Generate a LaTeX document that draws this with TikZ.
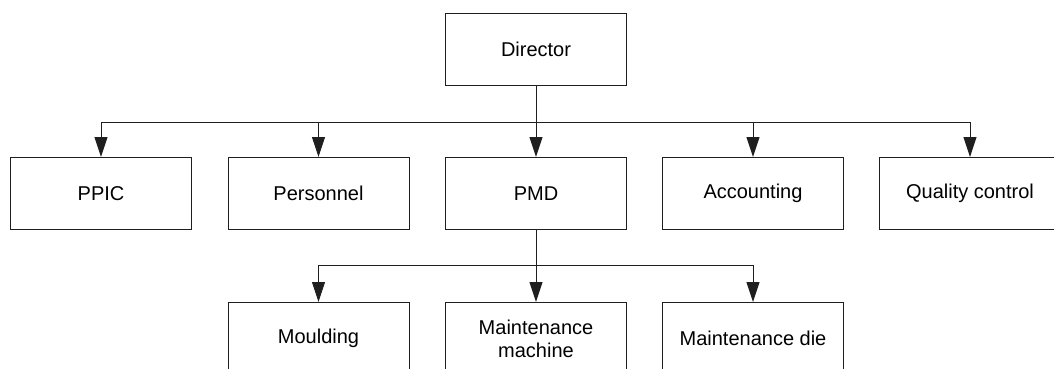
\documentclass[tikz,border=0pt]{standalone}
\usepackage{fontspec}
\setmainfont{Liberation Sans}
\usetikzlibrary{arrows.meta}
\begin{document}
\begin{tikzpicture}[x=1pt,y=-1pt,
  unit/.style={draw=black!88, line width=1pt, minimum width=181pt,
    minimum height=72pt, inner sep=0pt, align=center, anchor=north west,
    font=\fontsize{20}{23}\selectfont},
  wire/.style={draw=black!88, line width=1pt},
  link/.style={wire, -{Triangle[length=20pt,width=13pt]}}]
\useasboundingbox (0,0) rectangle (1054,369);
\clip (0,0) rectangle (1054,369);

% top level
\node[unit] (dir) at (445,13) {Director};

% departments
\node[unit] (ppic) at (10,157)    {PPIC};
\node[unit] (pers) at (227.5,157) {Personnel};
\node[unit] (pmd)  at (445,157)   {PMD};
\node[unit] (acc)  at (662,157)   {Accounting};
\node[unit] (qc)   at (879,157)   {Quality control};

% sections under PMD
\node[unit] (mould) at (227.5,302) {Moulding};
\node[unit] (mmach) at (445,302)   {Maintenance\\machine};
\node[unit] (mdie)  at (662,302)   {Maintenance die};

% distribution lines
\coordinate (bus)  at (0,122);
\coordinate (bus2) at (0,265);

\draw[wire] (ppic.north |- bus) -- (qc.north |- bus);
\draw[link] (dir.south) -- (pmd.north);
\foreach \n in {ppic,pers,acc,qc}
  \draw[link] (\n.north |- bus) -- (\n.north);

\draw[wire] (mould.north |- bus2) -- (mdie.north |- bus2);
\draw[link] (pmd.south) -- (mmach.north);
\foreach \n in {mould,mdie}
  \draw[link] (\n.north |- bus2) -- (\n.north);
\end{tikzpicture}
\end{document}
